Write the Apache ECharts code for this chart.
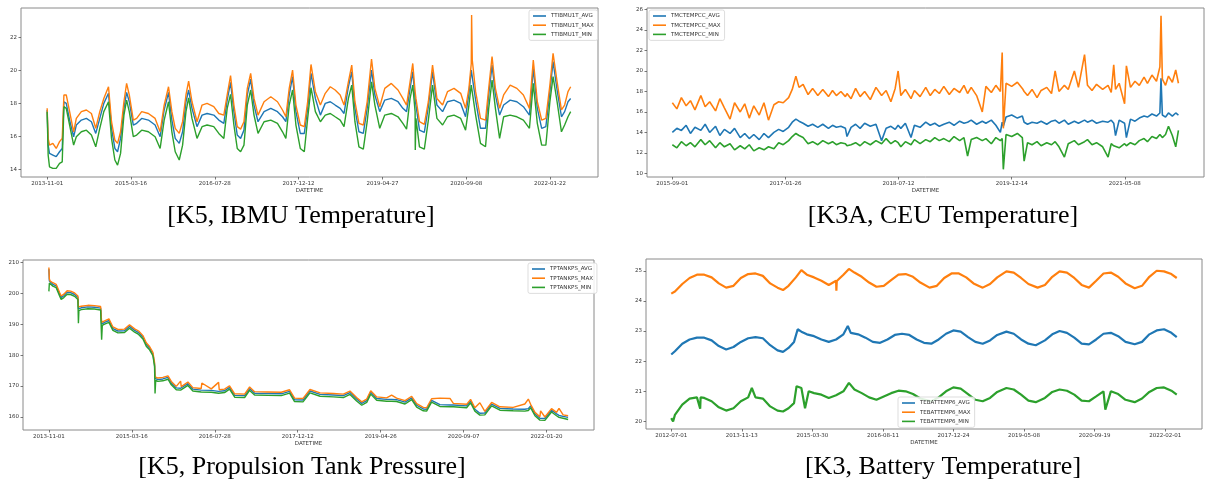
<!DOCTYPE html>
<html>
<head>
<meta charset="utf-8">
<title>Telemetry trends</title>
<script src="https://cdn.jsdelivr.net/npm/echarts@6/dist/echarts.min.js"></script>
<style>
html, body { margin: 0; padding: 0; background: #fff; }
#main { width: 1206px; height: 484px; }
</style>
</head>
<body>
<div id="main"></div>
<script>
// x values are sample positions (one sample per day, ticks every 500 samples)

// ---- K5, IBMU temperature ----
var ibmuTicks = ['2013-11-01', '2015-03-16', '2016-07-28', '2017-12-12', '2019-04-27', '2020-09-08', '2022-01-22'];
var ibmuIdx = [0,6,14,34,54,74,90,100,114,134,
  158,174,204,234,264,290,314,338,366,384,
  404,420,438,458,474,490,514,534,564,604,
  644,674,698,724,744,764,788,808,828,844,
  864,894,924,954,994,1024,1054,1074,1094,1114,
  1134,1154,1174,1194,1214,1234,1258,1294,1334,1374,
  1404,1424,1444,1464,1484,1510,1534,1554,1574,1600,
  1630,1659,1689,1718,1748,1771,1797,1817,1836,1860,
  1886,1909,1935,1955,1984,2014,2053,2093,2122,2144,
  2165,2181,2195,2196,2200,2221,2250,2274,2299,2325,
  2359,2388,2427,2467,2496,2516,2530,2532,2536,2556,
  2585,2615,2634,2654,2674,2699,2723,2762,2802,2841,
  2877,2900,2924,2950,2975,2999,3018,3042,3068,3087,
  3107,3123];
var ibmuMax = [17.72,15.90,15.49,15.60,15.29,15.70,15.90,18.53,18.53,17.52,
  16.30,17.11,17.52,17.62,17.41,16.51,17.52,18.32,19.03,16.91,
  15.80,15.60,16.30,18.12,19.23,18.53,17.01,17.11,17.52,17.41,
  17.11,16.30,17.92,19.03,17.52,16.51,16.20,16.91,18.53,19.37,
  18.12,16.91,17.92,18.02,17.82,17.41,17.31,18.53,19.70,17.92,
  16.61,16.46,16.91,18.93,19.84,18.32,17.31,18.12,18.42,18.12,
  17.62,17.21,18.93,20.04,17.92,16.71,16.61,18.12,20.38,18.73,
  17.92,18.63,19.03,18.83,18.53,17.92,19.33,20.34,18.12,16.81,
  16.71,18.12,20.71,18.93,17.82,18.93,19.23,18.83,18.32,17.92,
  19.33,20.44,18.73,18.69,18.32,16.91,16.75,18.12,20.34,18.32,
  17.92,18.73,18.93,18.63,17.72,18.93,20.44,23.37,20.65,18.73,
  17.11,17.01,18.93,20.85,18.93,17.72,18.53,19.13,18.93,18.53,
  17.72,20.65,18.12,17.01,17.11,19.13,21.05,19.33,17.62,17.92,
  18.73,19.03];
var ibmuAvg = [17.62,15.49,14.99,14.89,14.79,15.09,15.29,18.12,18.02,17.01,
  16.00,16.71,17.01,17.11,16.91,16.20,17.11,18.02,18.63,16.51,
  15.29,15.09,15.90,17.72,18.69,18.12,16.71,16.81,17.11,17.01,
  16.71,16.00,17.62,18.69,17.01,15.90,15.60,16.30,18.12,18.83,
  17.72,16.61,17.31,17.41,17.31,17.01,16.81,18.22,19.29,17.52,
  16.10,15.90,16.40,18.53,19.49,17.92,16.91,17.52,17.72,17.52,
  17.21,16.91,18.53,19.64,17.52,16.20,16.20,17.72,19.84,18.32,
  17.31,18.02,18.12,17.92,17.72,17.41,19.03,19.94,17.72,16.30,
  16.20,17.72,20.04,18.53,17.52,18.22,18.32,18.12,17.72,17.52,
  18.93,19.94,18.32,18.28,17.92,16.40,16.26,17.82,19.94,17.92,
  17.52,18.12,18.22,18.02,17.21,18.63,20.04,20.10,20.14,18.22,
  16.51,16.51,18.53,20.34,18.53,17.31,17.92,18.22,18.12,17.82,
  17.31,20.14,17.72,16.51,16.61,18.73,20.55,18.83,17.21,17.52,
  18.12,18.32];
var ibmuMin = [17.52,14.89,14.18,14.08,14.08,14.38,14.48,17.82,17.72,16.71,
  15.49,16.00,16.30,16.40,16.10,15.39,16.51,17.52,18.12,15.90,
  14.59,14.28,14.99,17.31,18.22,17.52,16.00,16.10,16.40,16.30,
  16.00,15.29,17.01,18.12,16.30,15.09,14.59,15.49,17.52,18.36,
  17.11,15.90,16.61,16.71,16.61,16.20,15.90,17.72,18.57,16.71,
  15.29,15.09,15.49,17.92,18.83,17.31,16.20,16.91,17.01,16.81,
  16.30,15.90,17.92,18.83,16.71,15.29,15.09,17.11,18.97,17.52,
  16.91,17.31,17.41,17.21,17.01,16.61,18.32,19.13,16.91,15.39,
  15.25,16.91,19.33,17.92,16.51,17.31,17.41,17.21,16.81,16.46,
  18.32,19.13,17.52,15.19,17.11,15.39,15.25,17.01,19.13,17.11,
  16.71,17.21,17.31,17.11,16.40,17.92,19.13,19.17,19.13,17.31,
  15.60,15.39,17.72,19.43,17.72,15.90,17.21,17.31,17.21,17.01,
  16.51,19.23,16.81,15.49,15.49,18.12,19.64,18.12,16.30,16.71,
  17.21,17.52];

// ---- K3A, CEU temperature ----
var ceuTicks = ['2015-09-01', '2017-01-26', '2018-07-12', '2019-12-14', '2021-05-08'];
var ceuIdx = [0,20,40,61,80,100,126,145,165,191,
  210,230,255,275,300,320,340,360,384,405,
  425,449,470,490,514,530,546,560,578,600,
  620,643,665,690,708,725,745,765,772,790,
  810,830,850,875,900,925,945,966,985,998,
  1010,1030,1055,1070,1095,1120,1140,1160,1180,1200,
  1224,1245,1270,1289,1305,1321,1345,1370,1386,1410,
  1430,1450,1458,1463,1475,1500,1525,1547,1555,1570,
  1590,1612,1630,1655,1676,1692,1709,1733,1750,1777,
  1795,1822,1835,1855,1875,1902,1926,1940,1951,1959,
  1975,1999,2007,2025,2045,2064,2085,2100,2120,2140,
  2155,2160,2166,2180,2193,2210,2225,2237];
var ceuMax = [16.9,16.3,17.4,16.6,17.1,16.2,17.6,16.5,17.0,16.1,
  17.3,16.4,15.3,16.9,16.0,16.8,15.4,16.6,15.7,16.9,
  15.2,16.7,17.0,16.9,17.4,18.2,19.5,18.4,18.7,17.7,
  18.3,17.6,18.2,17.5,18.1,17.6,18.0,17.5,17.8,17.3,
  18.3,17.5,18.0,17.2,18.4,17.6,18.1,17.0,18.3,20.0,
  17.6,18.2,17.3,18.1,17.5,18.4,17.6,18.2,17.8,18.5,
  17.7,18.3,17.9,18.6,17.8,18.4,17.6,16.0,18.5,17.9,
  18.6,18.0,21.8,14.4,18.8,18.5,18.9,18.3,18.0,17.6,
  18.2,17.4,18.1,18.4,17.8,20.0,18.0,18.6,18.2,20.0,
  18.4,21.6,18.6,18.1,18.7,18.2,18.6,17.9,20.6,18.2,
  18.8,16.8,20.5,18.4,19.0,18.6,19.4,18.8,19.6,19.0,
  20.4,25.4,19.2,18.6,19.5,18.9,20.1,18.8];
var ceuAvg = [14.0,14.4,14.2,14.7,13.9,14.5,14.2,14.8,14.0,14.6,
  13.7,14.3,13.9,14.4,13.5,13.9,13.4,13.8,13.3,13.9,
  13.5,14.0,14.3,14.1,14.5,15.0,15.3,15.1,14.9,14.6,
  14.8,14.5,14.8,14.4,14.7,14.5,14.6,14.4,13.6,14.5,
  14.8,14.4,14.9,14.6,14.8,13.2,14.4,14.6,14.3,14.7,
  14.4,14.9,13.5,14.7,14.5,15.0,14.7,14.9,14.6,14.8,
  15.0,14.7,15.1,14.9,15.0,15.2,14.8,15.1,14.9,15.2,
  14.7,14.0,15.0,14.6,15.5,15.7,15.4,15.6,15.0,14.8,
  15.0,14.9,15.1,14.8,15.1,15.2,14.9,15.2,14.8,15.1,
  14.9,15.2,15.0,15.2,14.9,15.1,15.0,15.2,14.9,13.7,
  15.2,14.9,13.5,15.3,15.1,15.4,15.6,15.5,15.8,15.6,
  15.9,19.3,15.7,15.5,15.9,15.6,15.9,15.7];
var ceuMin = [12.8,12.5,13.1,12.7,13.0,12.6,13.3,12.8,13.2,12.5,
  13.0,12.6,12.9,12.3,12.7,12.4,12.8,12.2,12.5,12.3,
  12.6,12.4,13.0,12.8,13.2,13.6,13.9,13.7,13.5,12.9,
  13.1,12.8,13.2,12.9,13.1,12.8,13.0,12.9,12.7,12.8,
  13.0,12.7,13.1,12.8,13.2,12.9,13.4,12.9,13.2,13.0,
  12.6,13.1,12.8,13.3,12.9,13.3,13.1,13.5,13.2,13.4,
  13.1,13.6,13.2,13.5,11.7,13.3,13.5,13.2,13.4,12.9,
  13.5,13.2,13.4,10.4,13.8,13.6,13.9,13.5,11.2,13.0,
  12.8,13.1,12.7,13.0,12.8,13.1,12.6,11.6,12.9,13.2,
  12.8,13.1,13.3,12.8,13.0,12.6,11.6,12.9,12.7,12.8,
  12.5,12.9,12.7,13.0,12.8,13.2,13.4,13.1,13.6,13.4,
  13.8,13.9,13.5,13.8,14.6,13.7,12.6,14.2];

// ---- K5, propulsion tank pressure ----
var tankTicks = ['2013-11-01', '2015-03-16', '2016-07-28', '2017-12-12', '2019-04-26', '2020-09-07', '2022-01-20'];
var tankIdx = [0,3,8,24,44,54,64,74,90,110,
  131,155,175,178,181,195,235,275,312,318,
  322,336,362,386,416,456,486,517,541,567,
  587,607,627,637,640,644,657,687,718,738,
  768,794,798,838,868,918,922,979,1023,1027,
  1059,1089,1120,1180,1210,1240,1321,1401,1451,1481,
  1532,1574,1635,1715,1775,1815,1855,1886,1916,1940,
  1976,2036,2066,2096,2147,2187,2217,2257,2277,2307,
  2357,2418,2438,2518,2542,2568,2598,2628,2669,2719,
  2799,2869,2890,2904,2930,2960,2964,2990,3030,3060,
  3075,3100,3130];
var tankAvg = [207.8,204.0,203.4,202.9,202.4,201.8,199.8,198.6,199.2,200.3,
  200.2,199.6,198.6,195.0,195.0,195.3,195.6,195.5,195.2,190.0,
  190.2,190.6,191.2,188.6,187.8,187.9,189.3,188.0,187.3,185.8,
  183.5,182.3,180.4,177.0,172.5,172.4,172.1,172.3,172.8,171.0,
  169.4,169.3,169.3,170.8,169.0,168.7,168.7,168.6,168.3,168.3,
  168.5,169.6,167.0,166.9,169.2,167.7,167.6,167.5,168.3,165.6,
  165.5,168.4,167.3,167.1,166.9,167.9,165.8,164.4,165.3,168.0,
  166.0,165.7,165.7,165.6,164.8,166.2,163.8,162.6,162.5,165.4,
  164.0,163.9,163.9,163.6,165.2,162.5,161.2,161.3,164.2,162.8,
  162.6,162.5,162.7,163.6,161.0,159.6,159.6,159.5,162.2,161.0,
  160.5,160.2,159.9];
var tankMax = [208.3,204.6,203.9,203.4,202.9,202.3,200.3,199.1,199.7,200.8,
  200.7,200.1,199.1,195.6,195.5,195.8,196.1,196.0,195.7,190.6,
  190.8,191.1,191.7,189.1,188.3,188.4,189.8,188.5,187.8,186.3,
  184.0,182.8,180.9,177.6,173.0,172.9,172.6,172.8,173.3,171.5,
  169.9,171.6,169.8,171.3,169.5,169.2,171.0,169.1,171.2,168.8,
  169.0,170.1,167.5,167.4,169.7,168.2,168.1,168.0,168.8,166.1,
  166.0,168.9,167.8,167.6,167.4,168.4,166.3,164.9,165.8,168.5,
  166.5,166.2,167.1,166.1,165.3,166.7,164.3,163.1,163.0,165.9,
  166.1,166.0,164.4,164.1,165.7,163.0,164.6,161.8,164.7,163.3,
  163.1,164.2,165.8,164.1,161.5,160.1,162.0,160.0,162.7,161.5,
  162.8,160.7,160.4];
var tankMin = [200.6,203.3,202.8,202.3,201.8,201.2,199.2,198.0,198.6,199.7,
  199.6,199.0,198.0,190.3,194.4,194.7,195.0,194.9,194.6,185.0,
  189.6,190.0,190.6,188.0,187.2,187.3,188.7,187.4,186.7,185.2,
  182.9,181.7,179.8,176.4,167.6,171.8,171.5,171.7,172.2,170.4,
  168.8,168.7,168.7,170.2,168.4,168.1,168.1,168.0,167.7,167.7,
  167.9,169.0,166.4,166.3,168.6,167.1,167.0,166.9,167.7,165.0,
  164.9,167.8,166.7,166.5,166.3,167.3,165.2,163.8,164.7,167.4,
  165.4,165.1,165.1,165.0,164.2,165.6,163.2,162.0,161.9,164.8,
  163.4,163.3,163.3,163.0,164.6,161.9,160.6,160.7,163.6,162.2,
  162.0,161.9,162.1,163.0,160.4,159.0,159.0,158.9,161.6,160.4,
  159.9,159.6,159.2];

// ---- K3, battery temperature ([sample, value] pairs) ----
var battTicks = ['2012-07-01', '2013-11-13', '2015-03-30', '2016-08-11', '2017-12-24', '2019-05-08', '2020-09-19', '2022-02-01'];
var battAvg = [[0,22.22],[26,22.33],[78,22.58],[130,22.72],[182,22.78],[234,22.78],[286,22.69],[337,22.50],[389,22.39],[441,22.47],
  [493,22.64],[545,22.76],[597,22.80],[649,22.76],[701,22.53],[753,22.36],[792,22.31],[831,22.44],[870,22.64],[896,23.06],
  [922,22.98],[961,22.89],[1012,22.83],[1064,22.72],[1116,22.64],[1168,22.72],[1220,22.89],[1251,23.17],[1272,22.94],[1324,22.89],
  [1376,22.78],[1428,22.64],[1480,22.61],[1532,22.72],[1584,22.87],[1635,22.91],[1687,22.87],[1739,22.72],[1791,22.61],[1843,22.58],
  [1895,22.72],[1947,22.91],[1999,23.02],[2051,22.98],[2103,22.80],[2155,22.64],[2207,22.58],[2259,22.69],[2310,22.87],[2375,22.98],
  [2427,22.91],[2479,22.72],[2531,22.58],[2583,22.53],[2648,22.69],[2700,22.89],[2752,23.00],[2804,22.94],[2856,22.78],[2908,22.58],
  [2960,22.56],[3011,22.72],[3063,22.91],[3115,22.94],[3167,22.83],[3219,22.64],[3284,22.56],[3336,22.64],[3388,22.89],[3440,23.02],
  [3492,23.06],[3544,22.94],[3582,22.80]];
var battMax = [[0,24.24],[26,24.31],[78,24.56],[130,24.76],[182,24.87],[234,24.87],[286,24.78],[337,24.58],[389,24.44],[441,24.50],
  [493,24.76],[545,24.89],[597,24.91],[649,24.83],[701,24.58],[753,24.44],[792,24.36],[831,24.50],[883,24.78],[922,25.02],
  [961,24.87],[1012,24.78],[1064,24.67],[1116,24.53],[1168,24.67],[1170,24.34],[1173,24.66],[1220,24.87],[1259,25.06],[1298,24.94],
  [1350,24.80],[1402,24.61],[1454,24.47],[1506,24.50],[1558,24.69],[1610,24.87],[1661,24.89],[1713,24.80],[1765,24.61],[1830,24.44],
  [1882,24.50],[1934,24.76],[1986,24.91],[2038,24.91],[2090,24.78],[2142,24.58],[2207,24.44],[2259,24.56],[2310,24.78],[2375,24.98],
  [2427,24.94],[2479,24.76],[2531,24.56],[2596,24.44],[2648,24.53],[2700,24.80],[2752,24.98],[2804,24.94],[2856,24.76],[2908,24.53],
  [2960,24.44],[3011,24.67],[3063,24.91],[3115,24.94],[3167,24.80],[3219,24.58],[3284,24.42],[3336,24.50],[3388,24.80],[3440,25.00],
  [3492,24.98],[3544,24.89],[3582,24.76]];
var battMin = [[0,20.11],[13,20.00],[26,20.22],[78,20.56],[130,20.76],[182,20.80],[205,20.42],[208,20.80],[234,20.78],[286,20.67],
  [337,20.47],[389,20.36],[441,20.44],[493,20.67],[545,20.80],[571,21.11],[597,20.80],[649,20.76],[701,20.50],[753,20.36],
  [792,20.33],[831,20.44],[870,20.61],[888,21.17],[922,21.11],[948,20.44],[974,21.00],[1012,20.94],[1064,20.89],[1116,20.78],
  [1168,20.87],[1220,21.00],[1259,21.28],[1298,21.06],[1350,20.94],[1402,20.80],[1454,20.72],[1506,20.83],[1558,20.94],[1610,21.02],
  [1661,21.00],[1713,20.91],[1765,20.76],[1843,20.67],[1895,20.80],[1947,21.00],[1999,21.13],[2051,21.09],[2103,20.91],[2155,20.72],
  [2207,20.67],[2259,20.78],[2310,20.98],[2375,21.11],[2427,21.06],[2479,20.89],[2531,20.69],[2583,20.64],[2648,20.78],[2700,20.98],
  [2752,21.06],[2804,21.02],[2856,20.89],[2908,20.69],[2960,20.67],[3011,20.83],[3063,21.00],[3076,20.39],[3115,21.00],[3167,20.91],
  [3219,20.72],[3284,20.64],[3336,20.76],[3388,20.98],[3440,21.11],[3492,21.13],[3544,21.02],[3582,20.89]];

var BLUE = '#1f77b4', ORANGE = '#ff7f0e', GREEN = '#2ca02c';
var TICK_FONT = 'DejaVu Sans';

function zip(xs, ys) {
  return xs.map(function (x, i) { return [x, ys[i]]; });
}

function line(name, color, data, gi, width) {
  return {
    name: name, type: 'line', xAxisIndex: gi, yAxisIndex: gi,
    data: data, symbol: 'none', showSymbol: false,
    lineStyle: { color: color, width: width },
    itemStyle: { color: color },
    emphasis: { disabled: true },
    animation: false
  };
}

function xAxisFor(gi, min, max, labels) {
  var ticks = labels.map(function (d, i) { return i * 500; });
  return {
    gridIndex: gi, type: 'value', min: min, max: max,
    name: 'DATETIME', nameLocation: 'middle', nameGap: 11,
    nameTextStyle: { fontSize: 5.5, color: '#333', fontFamily: TICK_FONT },
    axisLine: { show: false, onZero: false },
    splitLine: { show: false },
    axisTick: { show: true, customValues: ticks, length: 2.5, lineStyle: { color: '#555', width: 0.8 } },
    axisLabel: {
      customValues: ticks, fontSize: 5.5, color: '#333', fontFamily: TICK_FONT, margin: 4,
      formatter: function (v) { return labels[Math.round(v / 500)]; }
    }
  };
}

function yAxisFor(gi, min, max, ticks) {
  return {
    gridIndex: gi, type: 'value', min: min, max: max,
    axisLine: { show: false, onZero: false },
    splitLine: { show: false },
    axisTick: { show: true, customValues: ticks, length: 2.5, lineStyle: { color: '#555', width: 0.8 } },
    axisLabel: {
      customValues: ticks, fontSize: 5.5, color: '#333', fontFamily: TICK_FONT, margin: 4,
      formatter: function (v) { return String(v); }
    }
  };
}

function legendAt(names, left, top) {
  return {
    data: names, orient: 'vertical', left: left, top: top,
    icon: 'rect', itemWidth: 13, itemHeight: 1.6, itemGap: 3.2,
    padding: [3, 4, 3, 4],
    backgroundColor: 'rgba(255,255,255,0.85)',
    borderColor: '#d4d4d4', borderWidth: 0.8, borderRadius: 2,
    selectedMode: false,
    textStyle: { fontSize: 5.5, color: '#333', fontFamily: TICK_FONT }
  };
}

function caption(text, x, y) {
  return {
    type: 'text', x: x, y: y,
    style: { text: text, fontSize: 26, fontFamily: 'Liberation Serif', fill: '#000', align: 'center', verticalAlign: 'middle' }
  };
}

var gridStyle = { show: true, borderColor: '#8a8a8a', borderWidth: 1, backgroundColor: 'transparent' };

var option = {
  backgroundColor: '#fff',
  animation: false,
  grid: [
    Object.assign({ left: 21, top: 8, width: 577, height: 169 }, gridStyle),
    Object.assign({ left: 647, top: 8, width: 557, height: 169 }, gridStyle),
    Object.assign({ left: 23, top: 260, width: 571, height: 170 }, gridStyle),
    Object.assign({ left: 646, top: 259, width: 556, height: 170 }, gridStyle)
  ],
  xAxis: [
    xAxisFor(0, -156, 3286, ibmuTicks),
    xAxisFor(1, -112, 2350, ceuTicks),
    xAxisFor(2, -156, 3286, tankTicks),
    xAxisFor(3, -179, 3761, battTicks)
  ],
  yAxis: [
    yAxisFor(0, 13.56, 23.8, [14, 16, 18, 20, 22]),
    yAxisFor(1, 9.65, 26.15, [10, 12, 14, 16, 18, 20, 22, 24, 26]),
    yAxisFor(2, 155.8, 210.75, [160, 170, 180, 190, 200, 210]),
    yAxisFor(3, 19.75, 25.39, [20, 21, 22, 23, 24, 25])
  ],
  legend: [
    legendAt(['TTIBMU1T_AVG', 'TTIBMU1T_MAX', 'TTIBMU1T_MIN'], 529, 10),
    legendAt(['TMCTEMPCC_AVG', 'TMCTEMPCC_MAX', 'TMCTEMPCC_MIN'], 649, 10),
    legendAt(['TPTANKPS_AVG', 'TPTANKPS_MAX', 'TPTANKPS_MIN'], 528, 263),
    legendAt(['TEBATTEMP6_AVG', 'TEBATTEMP6_MAX', 'TEBATTEMP6_MIN'], 898, 397)
  ],
  series: [
    line('TTIBMU1T_AVG', BLUE, zip(ibmuIdx, ibmuAvg), 0, 1.4),
    line('TTIBMU1T_MAX', ORANGE, zip(ibmuIdx, ibmuMax), 0, 1.4),
    line('TTIBMU1T_MIN', GREEN, zip(ibmuIdx, ibmuMin), 0, 1.4),
    line('TMCTEMPCC_AVG', BLUE, zip(ceuIdx, ceuAvg), 1, 1.6),
    line('TMCTEMPCC_MAX', ORANGE, zip(ceuIdx, ceuMax), 1, 1.6),
    line('TMCTEMPCC_MIN', GREEN, zip(ceuIdx, ceuMin), 1, 1.6),
    line('TPTANKPS_AVG', BLUE, zip(tankIdx, tankAvg), 2, 1.4),
    line('TPTANKPS_MAX', ORANGE, zip(tankIdx, tankMax), 2, 1.4),
    line('TPTANKPS_MIN', GREEN, zip(tankIdx, tankMin), 2, 1.4),
    line('TEBATTEMP6_AVG', BLUE, battAvg, 3, 2.2),
    line('TEBATTEMP6_MAX', ORANGE, battMax, 3, 2.2),
    line('TEBATTEMP6_MIN', GREEN, battMin, 3, 2.2)
  ],
  graphic: [
    caption('[K5, IBMU Temperature]', 301, 216),
    caption('[K3A, CEU Temperature]', 943, 216),
    caption('[K5, Propulsion Tank Pressure]', 302, 467),
    caption('[K3, Battery Temperature]', 943, 467)
  ]
};

var chart = echarts.init(document.getElementById('main'));
chart.setOption(option);
</script>
</body>
</html>
